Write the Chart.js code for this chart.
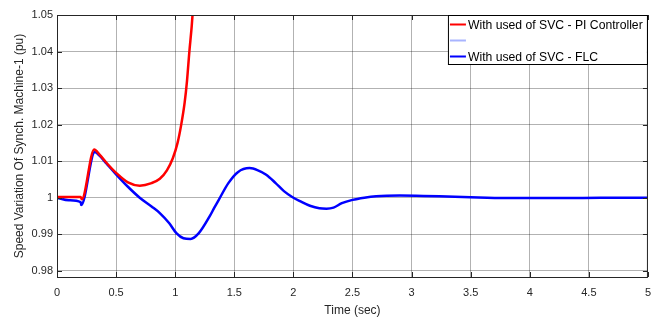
<!DOCTYPE html>
<html>
<head>
<meta charset="utf-8">
<script src="https://cdn.jsdelivr.net/npm/chart.js@4.4.1/dist/chart.umd.min.js"></script>
<style>
  body { margin: 0; background: #fff; }
  canvas { display: block; }
</style>
</head>
<body>
<canvas id="graficoSpeed" width="660" height="320"></canvas>
<script>
// values
const timePi = [0, 0.1, 0.2, 0.21, 0.315, 0.36, 0.42, 0.5, 0.6, 0.7, 0.8, 0.87, 0.93, 0.98, 1.02, 1.05, 1.08, 1.1, 1.12, 1.14, 1.16];
const speedPi = [1.0002, 1.0002, 1.0002, 0.9996, 1.0132, 1.0118, 1.0095, 1.0068, 1.0042, 1.0033, 1.0040, 1.0052, 1.0075, 1.0108, 1.015, 1.0198, 1.026, 1.032, 1.040, 1.047, 1.056];

const timeFlc = [0, 0.1, 0.2, 0.205, 0.32, 0.36, 0.42, 0.5, 0.6, 0.7, 0.8, 0.87, 0.95, 1.01, 1.07, 1.13, 1.2, 1.29, 1.33, 1.37, 1.45, 1.53, 1.63, 1.7, 1.77, 1.85, 1.92, 1.99, 2.06, 2.14, 2.22, 2.28, 2.34, 2.41, 2.5, 2.6, 2.7, 2.9, 3.1, 3.3, 3.5, 3.8, 4.0, 4.3, 4.6, 5.0];
const speedFlc = [1.0, 0.9993, 0.9988, 0.998, 1.0125, 1.0115, 1.0093, 1.0064, 1.003, 1.0, 0.9976, 0.9958, 0.993, 0.9903, 0.9889, 0.9887, 0.9903, 0.9948, 0.9972, 0.9995, 1.004, 1.007, 1.0081, 1.0075, 1.0063, 1.004, 1.0018, 1.0002, 0.999, 0.9978, 0.9971, 0.997, 0.9973, 0.9985, 0.9994, 1.0, 1.0004, 1.0006, 1.0005, 1.0003, 1.0001, 0.9999, 0.9999, 0.9999, 1.0, 1.0];

const yTicks = [0.98, 0.99, 1, 1.01, 1.02, 1.03, 1.04, 1.05];
const legendLabels = ['With used of SVC - PI Controller', '', 'With used of SVC - FLC'];

const toPoints = (xs, ys) => xs.map((x, i) => ({ x: x, y: ys[i] }));
const fonte = '"Liberation Sans", Arial, sans-serif';

const moldura = {
    id: 'moldura',
    afterDraw(chart) {
        const ctx = chart.ctx;
        const a = chart.chartArea;
        ctx.save();
        // axes box
        ctx.strokeStyle = '#262626';
        ctx.lineWidth = 1;
        ctx.strokeRect(a.left + 0.5, a.top + 0.5, a.right - a.left - 1, a.bottom - a.top);
        // inner tick marks
        chart.scales.x.ticks.forEach(t => {
            const px = Math.round(chart.scales.x.getPixelForValue(t.value)) + 0.5;
            ctx.beginPath();
            ctx.moveTo(px, a.top); ctx.lineTo(px, a.top + 5);
            ctx.moveTo(px, a.bottom); ctx.lineTo(px, a.bottom - 5);
            ctx.stroke();
        });
        chart.scales.y.ticks.forEach(t => {
            const py = Math.round(chart.scales.y.getPixelForValue(t.value)) + 0.5;
            ctx.beginPath();
            ctx.moveTo(a.left, py); ctx.lineTo(a.left + 5, py);
            ctx.moveTo(a.right, py); ctx.lineTo(a.right - 5, py);
            ctx.stroke();
        });
        // legend box, top right
        const bx = a.right - 200, by = a.top, bw = 199, bh = 49;
        ctx.fillStyle = '#fff';
        ctx.fillRect(bx, by, bw, bh);
        ctx.strokeStyle = '#000';
        ctx.strokeRect(bx + 0.5, by + 0.5, bw, bh);
        ctx.font = '12.2px ' + fonte;
        ctx.textBaseline = 'middle';
        chart.data.datasets.forEach((ds, i) => {
            const yy = by + 9.5 + i * 16;
            ctx.strokeStyle = ds.legendColor;
            ctx.lineWidth = 2;
            ctx.beginPath();
            ctx.moveTo(bx + 2, yy); ctx.lineTo(bx + 18, yy);
            ctx.stroke();
            ctx.fillStyle = '#000';
            ctx.fillText(legendLabels[i], bx + 20, yy + 1);
        });
        ctx.restore();
    }
};

const gridColor = 'rgba(0,0,0,0.3)';

new Chart(document.getElementById('graficoSpeed'), {
    type: 'line',
    data: {
        datasets: [{
            label: legendLabels[0],
            data: toPoints(timePi, speedPi),
            borderColor: '#ff0000',
            legendColor: '#ff0000',
            borderWidth: 2.5,
            pointRadius: 0,
            cubicInterpolationMode: 'monotone'
        }, {
            label: legendLabels[1],
            data: [],
            borderColor: '#a8b4ff',
            legendColor: '#a8b4ff',
            borderWidth: 1,
            pointRadius: 0
        }, {
            label: legendLabels[2],
            data: toPoints(timeFlc, speedFlc),
            borderColor: '#0000ff',
            legendColor: '#0000ff',
            borderWidth: 2.5,
            pointRadius: 0,
            cubicInterpolationMode: 'monotone'
        }]
    },
    options: {
        responsive: false,
        animation: false,
        devicePixelRatio: 1,
        layout: { padding: { left: 0, right: 9, top: 15, bottom: 0 } },
        plugins: {
            legend: { display: false },
            tooltip: { enabled: false }
        },
        scales: {
            x: {
                type: 'linear',
                min: 0,
                max: 5,
                ticks: {
                    stepSize: 0.5,
                    color: '#262626',
                    font: { family: fonte, size: 11 },
                    padding: 9,
                    maxRotation: 0,
                    callback: v => String(Number(v.toFixed(1)))
                },
                grid: { color: gridColor, drawTicks: false },
                border: { display: false },
                title: {
                    display: true,
                    text: 'Time (sec)',
                    color: '#262626',
                    font: { family: fonte, size: 12 },
                    padding: { top: 0, bottom: 2 }
                },
                afterFit(scale) { scale.height = 43; }
            },
            y: {
                min: 0.9783,
                max: 1.05,
                afterBuildTicks(scale) { scale.ticks = yTicks.map(v => ({ value: v })); },
                ticks: {
                    color: '#262626',
                    font: { family: fonte, size: 11 },
                    padding: 4,
                    callback: v => String(Number(v.toFixed(2)))
                },
                grid: { color: gridColor, drawTicks: false },
                border: { display: false },
                title: {
                    display: true,
                    text: 'Speed Variation Of Synch. Machine-1 (pu)',
                    color: '#262626',
                    font: { family: fonte, size: 12 },
                    padding: { top: 12, bottom: 0 }
                },
                afterFit(scale) { scale.width = 57; }
            }
        }
    },
    plugins: [moldura]
});
</script>
</body>
</html>
